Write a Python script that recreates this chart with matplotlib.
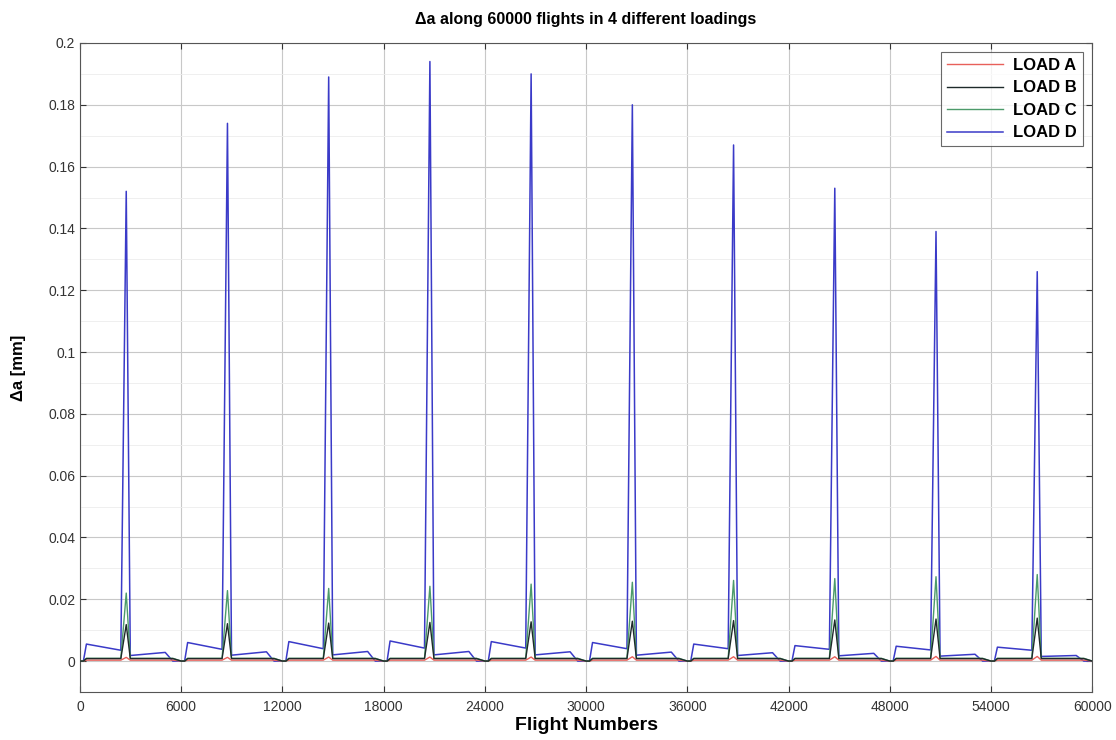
import numpy as np
import matplotlib.pyplot as plt
from matplotlib.ticker import MultipleLocator

# flights where each 6000-flight block begins
block_start = [0, 6000, 12000, 18000, 24000, 30000, 36000, 42000, 48000, 54000]
# breakpoints inside a block (flights after block start)
offsets = [0, 200, 380, 2420, 2740, 2980, 5050, 5500, 6000]

# LOAD D per block: plateau start/end, spike peak, post-spike start/end
d_plat_start = [0.0055, 0.0060, 0.0063, 0.0065, 0.0063, 0.0060, 0.0055, 0.0050, 0.0048, 0.0045]
d_plat_end = [0.0035, 0.0038, 0.0040, 0.0042, 0.0042, 0.0040, 0.0040, 0.0038, 0.0036, 0.0035]
d_peak = [0.152, 0.174, 0.189, 0.194, 0.190, 0.180, 0.167, 0.153, 0.139, 0.126]
d_post_start = [0.0018, 0.0019, 0.0020, 0.0020, 0.0020, 0.0019, 0.0018, 0.0017, 0.0016, 0.0015]
d_post_end = [0.0028, 0.0030, 0.0031, 0.0031, 0.0030, 0.0029, 0.0027, 0.0025, 0.0022, 0.0018]

# LOAD A / B / C spike peaks per block
a_peak = [0.0012, 0.0012, 0.0013, 0.0013, 0.0013, 0.0014, 0.0014, 0.0014, 0.0015, 0.0015]
b_peak = [0.0118, 0.0121, 0.0123, 0.0125, 0.0127, 0.0129, 0.0131, 0.0133, 0.0136, 0.0139]
c_peak = [0.0220, 0.0228, 0.0235, 0.0242, 0.0249, 0.0255, 0.0261, 0.0267, 0.0273, 0.0280]

a_base = 0.0003
b_base = 0.0008
c_base = 0.0009


def build(levels_per_block):
    xs, ys = [], []
    for s, lv in zip(block_start, levels_per_block):
        xs += [s + o for o in offsets]
        ys += lv
    return np.array(xs), np.array(ys)


lev_a = [[0, 0, a_base, a_base, a_peak[i], a_base, a_base, a_base, 0] for i in range(10)]
lev_b = [[0, 0, b_base, b_base, b_peak[i], b_base, b_base, b_base, 0] for i in range(10)]
lev_c = [[0, 0, c_base, c_base, c_peak[i], c_base, c_base, c_base, 0] for i in range(10)]
lev_d = [[0, 0, d_plat_start[i], d_plat_end[i], d_peak[i], d_post_start[i],
          d_post_end[i], 0, 0] for i in range(10)]

plt.rcParams['font.family'] = ['Liberation Sans', 'DejaVu Sans']

fig = plt.figure(figsize=(11.16, 7.4), dpi=100)
ax = fig.add_axes([0.0717, 0.0649, 0.907, 0.877])

xa, ya = build(lev_a)
xb, yb = build(lev_b)
xc, yc = build(lev_c)
xd, yd = build(lev_d)

ax.plot(xa, ya, color='#e8605a', lw=1.0, label='LOAD A', zorder=3)
ax.plot(xb, yb, color='#1e2a2a', lw=1.0, label='LOAD B', zorder=5)
ax.plot(xc, yc, color='#4c9a6a', lw=1.0, label='LOAD C', zorder=4)
ax.plot(xd, yd, color='#3a3ac8', lw=1.1, label='LOAD D', zorder=2)

ax.set_xlim(0, 60000)
ax.set_ylim(-0.01, 0.2)
ax.xaxis.set_major_locator(MultipleLocator(6000))
ax.yaxis.set_minor_locator(MultipleLocator(0.01))
ax.set_yticks([0, 0.02, 0.04, 0.06, 0.08, 0.1, 0.12, 0.14, 0.16, 0.18, 0.2])
ax.set_yticklabels(['0', '0.02', '0.04', '0.06', '0.08', '0.1', '0.12', '0.14',
                    '0.16', '0.18', '0.2'])

ax.grid(True, which='major', color='#c8c8c8', lw=0.8)
ax.grid(True, which='minor', axis='y', color='#ececec', lw=0.6)
ax.set_axisbelow(True)
ax.tick_params(which='both', direction='in', top=True, right=True,
               labelsize=10, colors='#333333', length=4)
ax.tick_params(axis='x', pad=6)
ax.tick_params(which='minor', length=0)
for sp in ax.spines.values():
    sp.set_color('#555555')
    sp.set_linewidth(0.8)

ax.set_title('\u0394a along 60000 flights in 4 different loadings',
             fontsize=11.5, fontweight='bold', pad=14)
ax.set_xlabel('Flight Numbers', fontsize=14, fontweight='bold', labelpad=2)
ax.set_ylabel('\u0394a [mm]', fontsize=12, fontweight='bold', labelpad=16)

leg = ax.legend(loc='upper right', prop={'weight': 'bold', 'size': 12},
                frameon=True, fancybox=False, edgecolor='#444444',
                borderpad=0.35, labelspacing=0.45, handlelength=3.4,
                handletextpad=0.6, borderaxespad=0.55)
leg.get_frame().set_linewidth(0.8)

fig.savefig('out.png', dpi=100)
